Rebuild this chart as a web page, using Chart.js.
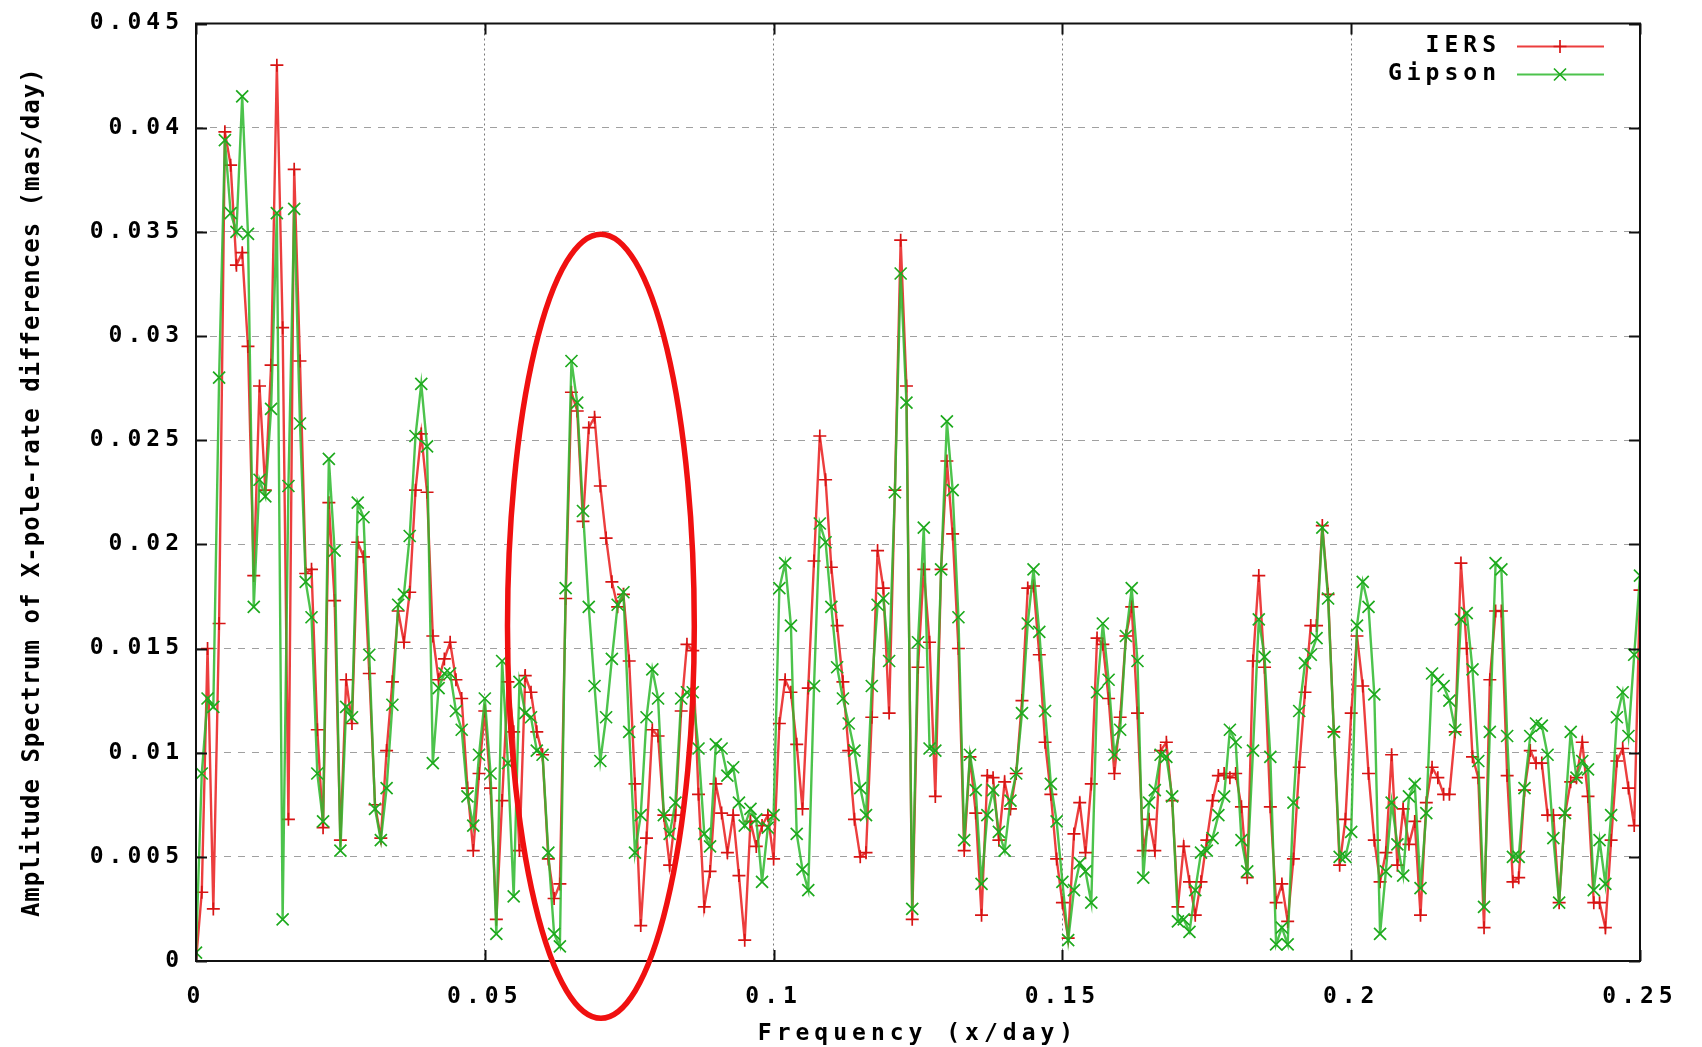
<!DOCTYPE html>
<html>
<head>
<meta charset="utf-8">
<title>Amplitude Spectrum of X-pole-rate differences</title>
<script src="https://cdn.jsdelivr.net/npm/chart.js@4.4.1/dist/chart.umd.min.js"></script>
<style>
  html, body { margin: 0; padding: 0; background: #fff; }
  #wrap { width: 1702px; height: 1047px; }
</style>
</head>
<body>
<div id="wrap"><canvas id="spectrum"></canvas></div>
<script>
'use strict';

// frequency grid (x/day), one sample every 0.001
const freqStep = 0.001;

// amplitude (mas/day)
const iers = [
  0.0000, 0.0033, 0.0150, 0.0025, 0.0162, 0.0398, 0.0382, 0.0334, 0.0340, 0.0295,
  0.0185, 0.0276, 0.0226, 0.0286, 0.0430, 0.0304, 0.0068, 0.0380, 0.0288, 0.0186,
  0.0188, 0.0111, 0.0064, 0.0220, 0.0173, 0.0058, 0.0135, 0.0114, 0.0201, 0.0194,
  0.0138, 0.0075, 0.0059, 0.0101, 0.0134, 0.0168, 0.0153, 0.0177, 0.0226, 0.0253,
  0.0225, 0.0156, 0.0135, 0.0145, 0.0153, 0.0135, 0.0126, 0.0083, 0.0053, 0.0090,
  0.0120, 0.0083, 0.0020, 0.0077, 0.0134, 0.0110, 0.0053, 0.0137, 0.0129, 0.0110,
  0.0099, 0.0049, 0.0030, 0.0037, 0.0174, 0.0273, 0.0264, 0.0211, 0.0256, 0.0261,
  0.0228, 0.0203, 0.0182, 0.0170, 0.0176, 0.0144, 0.0085, 0.0017, 0.0059, 0.0111,
  0.0108, 0.0070, 0.0046, 0.0070, 0.0120, 0.0152, 0.0149, 0.0080, 0.0026, 0.0043,
  0.0085, 0.0071, 0.0052, 0.0070, 0.0041, 0.0010, 0.0067, 0.0055, 0.0065, 0.0070,
  0.0049, 0.0114, 0.0135, 0.0129, 0.0104, 0.0073, 0.0131, 0.0192, 0.0252, 0.0231,
  0.0189, 0.0161, 0.0134, 0.0101, 0.0068, 0.0050, 0.0052, 0.0117, 0.0197, 0.0179,
  0.0119, 0.0226, 0.0346, 0.0276, 0.0020, 0.0141, 0.0188, 0.0153, 0.0079, 0.0188,
  0.0240, 0.0205, 0.0150, 0.0053, 0.0098, 0.0071, 0.0022, 0.0089, 0.0088, 0.0058,
  0.0086, 0.0073, 0.0090, 0.0125, 0.0179, 0.0180, 0.0147, 0.0105, 0.0080, 0.0049,
  0.0028, 0.0011, 0.0061, 0.0076, 0.0052, 0.0085, 0.0155, 0.0152, 0.0126, 0.0090,
  0.0117, 0.0156, 0.0170, 0.0119, 0.0053, 0.0068, 0.0053, 0.0101, 0.0105, 0.0077,
  0.0026, 0.0055, 0.0038, 0.0022, 0.0038, 0.0058, 0.0077, 0.0089, 0.0090, 0.0088,
  0.0090, 0.0074, 0.0040, 0.0144, 0.0185, 0.0141, 0.0074, 0.0028, 0.0037, 0.0019,
  0.0049, 0.0093, 0.0129, 0.0161, 0.0161, 0.0209, 0.0176, 0.0110, 0.0046, 0.0068,
  0.0119, 0.0156, 0.0132, 0.0090, 0.0058, 0.0038, 0.0052, 0.0099, 0.0046, 0.0073,
  0.0056, 0.0067, 0.0022, 0.0076, 0.0093, 0.0088, 0.0080, 0.0080, 0.0110, 0.0191,
  0.0150, 0.0098, 0.0088, 0.0016, 0.0135, 0.0168, 0.0168, 0.0089, 0.0038, 0.0040,
  0.0082, 0.0101, 0.0095, 0.0095, 0.0070, 0.0070, 0.0028, 0.0070, 0.0086, 0.0088,
  0.0105, 0.0079, 0.0028, 0.0028, 0.0016, 0.0058, 0.0096, 0.0102, 0.0083, 0.0065,
  0.0178
];

const gipson = [
  0.0004, 0.0090, 0.0126, 0.0122, 0.0280, 0.0394, 0.0359, 0.0350, 0.0415, 0.0349,
  0.0170, 0.0231, 0.0223, 0.0265, 0.0359, 0.0020, 0.0228, 0.0361, 0.0258, 0.0182,
  0.0165, 0.0090, 0.0067, 0.0241, 0.0197, 0.0053, 0.0122, 0.0117, 0.0220, 0.0213,
  0.0147, 0.0073, 0.0058, 0.0083, 0.0123, 0.0171, 0.0176, 0.0204, 0.0252, 0.0277,
  0.0247, 0.0095, 0.0131, 0.0138, 0.0138, 0.0120, 0.0111, 0.0079, 0.0065, 0.0099,
  0.0126, 0.0090, 0.0013, 0.0144, 0.0095, 0.0031, 0.0134, 0.0119, 0.0117, 0.0101,
  0.0099, 0.0052, 0.0013, 0.0007, 0.0179, 0.0288, 0.0268, 0.0216, 0.0170, 0.0132,
  0.0096, 0.0117, 0.0145, 0.0171, 0.0177, 0.0110, 0.0052, 0.0070, 0.0117, 0.0140,
  0.0126, 0.0070, 0.0061, 0.0076, 0.0126, 0.0129, 0.0129, 0.0102, 0.0061, 0.0055,
  0.0104, 0.0102, 0.0089, 0.0093, 0.0076, 0.0065, 0.0073, 0.0068, 0.0038, 0.0064,
  0.0070, 0.0179, 0.0191, 0.0161, 0.0061, 0.0044, 0.0034, 0.0132, 0.0210, 0.0201,
  0.0170, 0.0141, 0.0126, 0.0114, 0.0101, 0.0083, 0.0070, 0.0132, 0.0171, 0.0174,
  0.0144, 0.0225, 0.0330, 0.0268, 0.0025, 0.0153, 0.0208, 0.0102, 0.0101, 0.0188,
  0.0259, 0.0226, 0.0165, 0.0058, 0.0099, 0.0082, 0.0037, 0.0070, 0.0082, 0.0062,
  0.0053, 0.0077, 0.0090, 0.0119, 0.0162, 0.0188, 0.0158, 0.0120, 0.0085, 0.0067,
  0.0038, 0.0010, 0.0034, 0.0047, 0.0043, 0.0028, 0.0129, 0.0162, 0.0135, 0.0099,
  0.0111, 0.0156, 0.0179, 0.0144, 0.0040, 0.0076, 0.0082, 0.0099, 0.0098, 0.0079,
  0.0019, 0.0020, 0.0014, 0.0034, 0.0052, 0.0053, 0.0059, 0.0070, 0.0079, 0.0111,
  0.0105, 0.0058, 0.0043, 0.0101, 0.0164, 0.0146, 0.0098, 0.0008, 0.0016, 0.0008,
  0.0076, 0.0120, 0.0143, 0.0147, 0.0155, 0.0208, 0.0174, 0.0110, 0.0050, 0.0050,
  0.0062, 0.0161, 0.0182, 0.0170, 0.0128, 0.0013, 0.0043, 0.0076, 0.0056, 0.0041,
  0.0079, 0.0085, 0.0035, 0.0071, 0.0138, 0.0135, 0.0132, 0.0125, 0.0111, 0.0164,
  0.0167, 0.0140, 0.0096, 0.0026, 0.0110, 0.0191, 0.0188, 0.0108, 0.0050, 0.0050,
  0.0083, 0.0108, 0.0114, 0.0113, 0.0099, 0.0059, 0.0028, 0.0071, 0.0110, 0.0088,
  0.0096, 0.0092, 0.0034, 0.0058, 0.0037, 0.0070, 0.0117, 0.0129, 0.0108, 0.0147,
  0.0185
];

const freq = iers.map((_, i) => i * freqStep);

const seriesNames = ['IERS', 'Gipson'];
const xTitle = 'Frequency (x/day)';
const yTitle = 'Amplitude Spectrum of X-pole-rate differences (mas/day)';

// hand-drawn red ellipse, in data units
const highlight = { freq: 0.0701, amp: 0.01607, halfFreq: 0.01617, halfAmp: 0.01882 };

const tickFont = { family: 'DejaVu Sans Mono', size: 23, weight: 'bold', lineHeight: 1 };
const fmt = v => parseFloat(v.toFixed(3)).toString();

const gnuplotLook = {
  id: 'gnuplotLook',
  beforeDraw(chart) {
    const ctx = chart.ctx;
    ctx.save();
    ctx.fillStyle = '#ffffff';
    ctx.fillRect(0, 0, chart.width, chart.height);
    ctx.restore();
    // wide bitmap-like gnuplot lettering
    ctx.letterSpacing = '5px';
  },
  afterDraw(chart) {
    const { ctx, chartArea: a, scales: { x, y } } = chart;
    ctx.save();

    // border + inward ticks on all sides
    ctx.strokeStyle = '#111';
    ctx.lineWidth = 2;
    ctx.strokeRect(a.left, a.top, a.right - a.left, a.bottom - a.top);
    ctx.beginPath();
    y.ticks.forEach(t => {
      const py = Math.round(y.getPixelForValue(t.value)) + 0.5;
      ctx.moveTo(a.left, py); ctx.lineTo(a.left + 11, py);
      ctx.moveTo(a.right, py); ctx.lineTo(a.right - 11, py);
    });
    x.ticks.forEach(t => {
      const px = Math.round(x.getPixelForValue(t.value)) + 0.5;
      ctx.moveTo(px, a.bottom); ctx.lineTo(px, a.bottom - 11);
      ctx.moveTo(px, a.top); ctx.lineTo(px, a.top + 11);
    });
    ctx.stroke();

    // legend, gnuplot style: text then sample
    ctx.font = 'bold 23px "DejaVu Sans Mono"';
    ctx.letterSpacing = '5px';
    ctx.textAlign = 'right';
    ctx.textBaseline = 'middle';
    chart.data.datasets.forEach((ds, i) => {
      const ly = a.top + 23 + i * 28;
      ctx.fillStyle = '#000';
      ctx.fillText(ds.label, a.right - 139, ly);
      ctx.strokeStyle = ds.borderColor;
      ctx.lineWidth = 2;
      ctx.beginPath();
      ctx.moveTo(a.right - 123, ly); ctx.lineTo(a.right - 36, ly);
      ctx.stroke();
      const cx = a.right - 80;
      const r = ds.pointRadius;
      ctx.strokeStyle = ds.pointBorderColor;
      ctx.lineWidth = ds.pointBorderWidth;
      ctx.beginPath();
      if (ds.pointStyle === 'cross') {
        ctx.moveTo(cx - r, ly); ctx.lineTo(cx + r, ly);
        ctx.moveTo(cx, ly - r); ctx.lineTo(cx, ly + r);
      } else {
        const d = r * Math.SQRT1_2;
        ctx.moveTo(cx - d, ly - d); ctx.lineTo(cx + d, ly + d);
        ctx.moveTo(cx - d, ly + d); ctx.lineTo(cx + d, ly - d);
      }
      ctx.stroke();
    });

    // rotated y title
    ctx.font = 'bold 24px "DejaVu Sans Mono"';
    ctx.letterSpacing = '1px';
    ctx.textAlign = 'center';
    ctx.fillStyle = '#000';
    ctx.translate(33, (a.top + a.bottom) / 2);
    ctx.rotate(-Math.PI / 2);
    ctx.fillText(yTitle, 0, 0);
    ctx.setTransform(1, 0, 0, 1, 0, 0);

    // red ellipse annotation
    const ex = x.getPixelForValue(highlight.freq);
    const ey = y.getPixelForValue(highlight.amp);
    const rx = x.getPixelForValue(highlight.freq + highlight.halfFreq) - ex;
    const ry = ey - y.getPixelForValue(highlight.amp + highlight.halfAmp);
    ctx.strokeStyle = '#f01010';
    ctx.lineWidth = 5.5;
    ctx.beginPath();
    ctx.ellipse(ex, ey, rx, ry, 0, 0, Math.PI * 2);
    ctx.stroke();

    ctx.restore();
    ctx.letterSpacing = '5px';
  }
};

const ctx = document.getElementById('spectrum');
new Chart(ctx, {
  type: 'line',
  data: {
    datasets: [
      {
        label: seriesNames[0],
        data: freq.map((f, i) => ({ x: f, y: iers[i] })),
        borderColor: 'rgb(236, 62, 62)',
        borderWidth: 2.4,
        pointStyle: 'cross',
        pointRadius: 6.5,
        pointBorderColor: 'rgb(215, 20, 20)',
        pointBorderWidth: 1.7,
        tension: 0,
        order: 2
      },
      {
        label: seriesNames[1],
        data: freq.map((f, i) => ({ x: f, y: gipson[i] })),
        borderColor: 'rgba(45, 185, 45, 0.85)',
        borderWidth: 2.4,
        pointStyle: 'crossRot',
        pointRadius: 8.5,
        pointBorderColor: 'rgb(30, 170, 30)',
        pointBorderWidth: 1.7,
        tension: 0,
        order: 1
      }
    ]
  },
  options: {
    responsive: true,
    maintainAspectRatio: false,
    animation: false,
    events: [],
    layout: { padding: { left: 0, right: 62, top: 18, bottom: 0 } },
    plugins: {
      legend: { display: false },
      tooltip: { enabled: false }
    },
    scales: {
      x: {
        type: 'linear',
        min: 0,
        max: 0.25,
        afterFit: s => { s.height = 86; },
        ticks: {
          stepSize: 0.05,
          maxRotation: 0,
          padding: 25,
          color: '#000',
          font: tickFont,
          callback: fmt
        },
        grid: { color: '#7a7a7a', lineWidth: 1, drawTicks: false },
        border: { display: false, dash: [2, 3] },
        title: {
          display: true,
          text: xTitle,
          color: '#000',
          font: tickFont,
          padding: { top: 0, bottom: 1 }
        }
      },
      y: {
        min: 0,
        max: 0.045,
        afterFit: s => { s.width = 196; },
        ticks: {
          stepSize: 0.005,
          padding: 12,
          color: '#000',
          font: tickFont,
          callback: fmt
        },
        grid: { color: '#a0a0a0', lineWidth: 1, drawTicks: false },
        border: { display: false, dash: [7, 7] }
      }
    }
  },
  plugins: [gnuplotLook]
});
</script>
</body>
</html>
